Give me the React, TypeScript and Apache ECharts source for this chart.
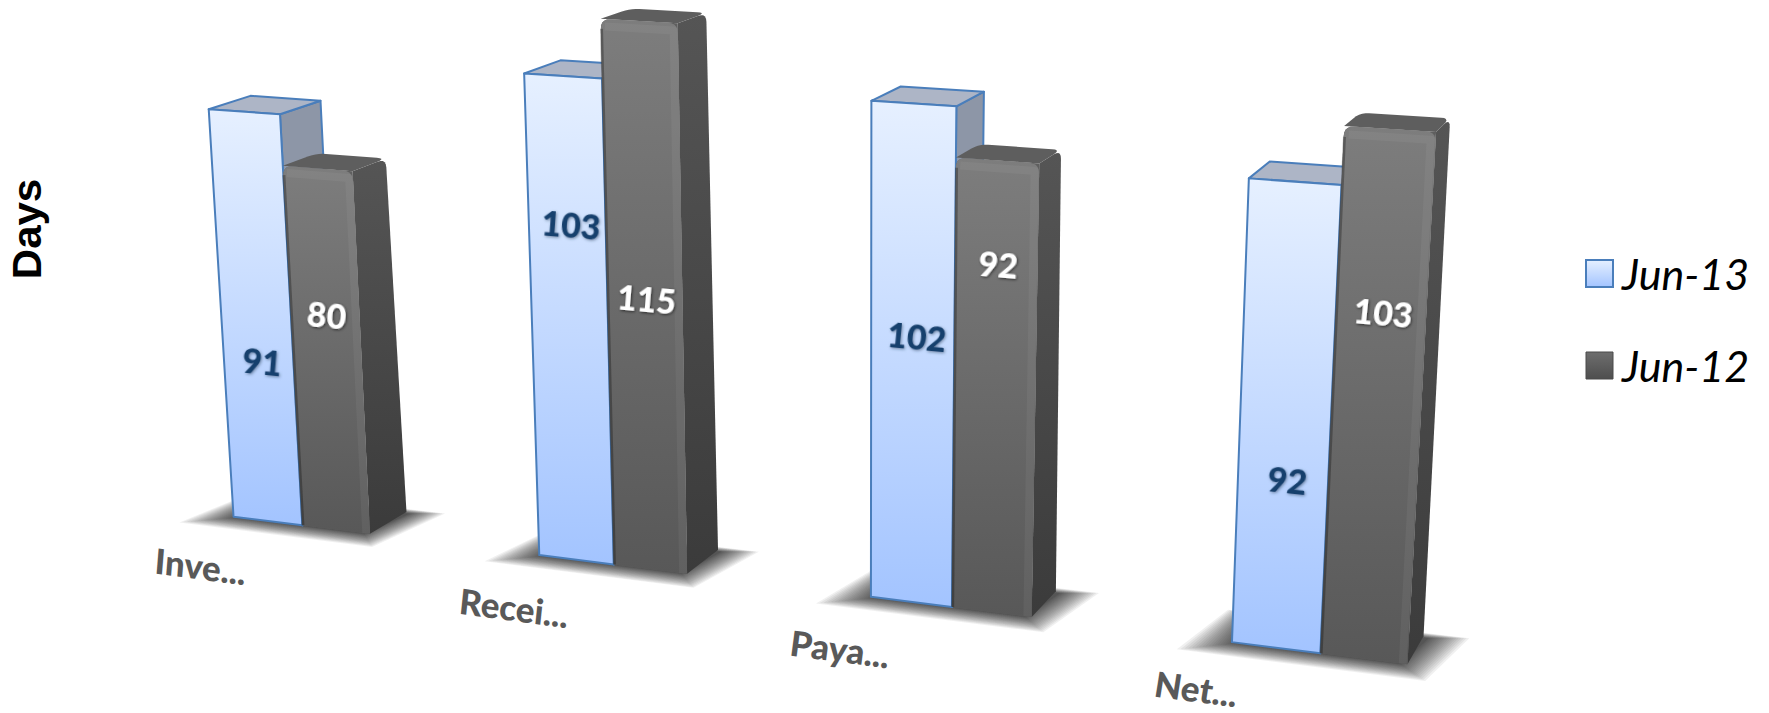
import React, { useEffect, useRef } from "react";
import * as echarts from "echarts";

const categories = ["Inve...", "Recei...", "Paya...", "Net..."];
const jun13 = [91, 103, 102, 92];
const jun12 = [80, 115, 92, 103];
const jun13LabelLift = [0.4, 0.703, 0.545, 0.373];
const jun12LabelLift = [0.606, 0.508, 0.778, 0.667];
const categoryLabelShift = [-0.125, -0.085, -0.09, -0.09];
const categoryLabelDrop = [12.5, 12.5, 12, 10.5];

const WIDTH = 1769;
const HEIGHT = 713;
const K = WIDTH / 1568;
const LABEL_FONT = "Lato, 'Open Sans', sans-serif";

// Perspective camera: U runs along the categories, H up the value axis, D into the floor.
const project = (U: number, H: number, D: number): number[] => {
  const w = 1 - 0.0391 * U - 0.000418 * H + 0.024 * D;
  const x = (207 + 252.3 * U - 0.3191 * H + 44 * D) / w;
  const y = (458 + 14.8 * U - 4.01 * H - 10.3 * D) / w;
  return [x * K, y * K];
};

// Rounds the listed corners of a polygon by sampling a quadratic curve around each.
const roundCorners = (pts: number[][], r: number, which: boolean[]) => {
  const out: number[][] = [];
  pts.forEach((p, i) => {
    if (!which[i]) {
      out.push(p);
      return;
    }
    const a = pts[(i + pts.length - 1) % pts.length];
    const b = pts[(i + 1) % pts.length];
    const toward = (q: number[]) => {
      const d = Math.hypot(q[0] - p[0], q[1] - p[1]) || 1;
      return [p[0] + ((q[0] - p[0]) / d) * r, p[1] + ((q[1] - p[1]) / d) * r];
    };
    const s = toward(a);
    const e = toward(b);
    for (let t = 0; t <= 1.001; t += 0.2) {
      const m = 1 - t;
      out.push([
        m * m * s[0] + 2 * m * t * p[0] + t * t * e[0],
        m * m * s[1] + 2 * m * t * p[1] + t * t * e[1],
      ]);
    }
  });
  return out;
};

const vertical = (top: string, bottom: string) =>
  new echarts.graphic.LinearGradient(0, 0, 0, 1, [
    { offset: 0, color: top },
    { offset: 1, color: bottom },
  ]);

// Recovers the model position of a datum from the cartesian axes of the flat grid.
const locate = (api: any) => {
  const cat = api.value(0);
  const val = api.value(1);
  const [px, py] = api.coord([cat, val]);
  const [, py0] = api.coord([cat, 0]);
  const band = api.size([1, 0])[0];
  const unit = api.size([0, 1])[1];
  return { cat, val, U: px / band - 0.5, H: (py0 - py) / unit };
};

// Orientation of a text laid on the front plane at a given spot.
const planeText = (U: number, H: number, lean: number) => {
  const p = project(U, H, 0);
  const q = project(U + 0.1, H, 0);
  const up = project(U, H + 10, 0);
  return {
    x: p[0],
    y: p[1],
    rotation: -Math.atan2(q[1] - p[1], q[0] - p[0]),
    skewX: -lean * Math.atan2(up[0] - p[0], p[1] - up[1]),
  };
};

// Floor shadow: stacked translucent quads widening outwards give a soft falloff.
const renderFloor = (_: any, api: any) => {
  const { cat, U } = locate(api);
  const layers: any[] = [];
  const steps = 22;
  for (let k = 0; k < steps; k++) {
    const e = Math.pow(1 - k / (steps - 1), 1.4);
    const points = [
      project(U + 0.01 - 0.13 * e, 0, -0.02 - 0.4 * e),
      project(U + 0.0 - 0.07 * e, 0, 0.82 + 0.16 * e),
      project(U + 0.47 + 0.1 * e, 0, 0.85 + 0.16 * e),
      project(U + 0.44 + 0.08 * e, 0, -0.02 - 0.4 * e),
    ];
    layers.push({
      type: "polygon",
      shape: { points },
      style: { fill: "rgba(50,50,50,0.075)" },
    });
  }
  layers.push({
    type: "text",
    ...planeText(U + categoryLabelShift[cat], -categoryLabelDrop[cat], 0.8),
    style: {
      text: categories[cat],
      fontFamily: LABEL_FONT,
      fontWeight: 900,
      fontSize: 35,
      fill: "#595959",
      align: "center",
      verticalAlign: "middle",
    },
  });
  return { type: "group", children: layers };
};

const valueText = (U: number, H: number, value: number, fill: string, shadow: string) => ({
  type: "text",
  ...planeText(U, H, 0.4),
  style: {
    text: String(value),
    fontFamily: LABEL_FONT,
    fontWeight: 900,
    fontSize: 34,
    fill,
    align: "center",
    verticalAlign: "middle",
    textShadowColor: shadow,
    textShadowBlur: 3,
    textShadowOffsetX: 1,
    textShadowOffsetY: 1,
  },
});

const renderJun13 = (_: any, api: any) => {
  const { cat, val, U, H } = locate(api);
  const u0 = U;
  const u1 = U + 0.232;
  const d = 0.92;
  const edge = { stroke: "#4a7ebb", lineWidth: 2, lineJoin: "round" };
  return {
    type: "group",
    children: [
      {
        type: "polygon",
        shape: {
          points: [project(u1, H, 0), project(u1, H, d), project(u1, 0, d), project(u1, 0, 0)],
        },
        style: { fill: "#8d96a7", ...edge },
      },
      {
        type: "polygon",
        shape: {
          points: [project(u0, H, 0), project(u0, H, d), project(u1, H, d), project(u1, H, 0)],
        },
        style: { fill: "#adb5c6", ...edge },
      },
      {
        type: "polygon",
        shape: {
          points: [project(u0, H, 0), project(u1, H, 0), project(u1, 0, 0), project(u0, 0, 0)],
        },
        style: { fill: vertical("#e6f0ff", "#a3c4ff"), ...edge },
      },
      valueText(U + 0.128, val * jun13LabelLift[cat], val, "#17406d", "rgba(40,60,90,0.55)"),
    ],
  };
};

const renderJun12 = (_: any, api: any) => {
  const { cat, val, U, H } = locate(api);
  const u0 = U + 0.232;
  const u1 = U + 0.456;
  const topDepth = 0.78;
  const footDepth = 0.9;
  const ft0 = project(u0, H, 0);
  const ft1 = project(u1, H, 0);
  const fb1 = project(u1, 0, 0);
  const fb0 = project(u0, 0, 0);
  const bt0 = project(u0, H, topDepth);
  const bt1 = project(u1, H, topDepth);
  const bb1 = project(u1, 0, footDepth);
  const inset = 0.012;
  return {
    type: "group",
    children: [
      {
        type: "polygon",
        shape: { points: roundCorners([ft1, bt1, bb1, fb1], 9, [false, true, false, false]) },
        style: { fill: vertical("#555555", "#3b3b3b") },
      },
      {
        type: "polygon",
        shape: { points: roundCorners([ft0, bt0, bt1, ft1], 9, [false, true, true, false]) },
        style: { fill: "#5e5e5e" },
      },
      // Backing so the rounded front corner never opens onto the page.
      {
        type: "polygon",
        shape: { points: roundCorners([ft0, ft1, fb1, fb0], 10, [true, false, false, false]) },
        style: { fill: "#5f5f5f" },
      },
      {
        type: "polygon",
        shape: {
          points: roundCorners([ft0, ft1, fb1, fb0], 10, [true, true, false, false]),
        },
        style: { fill: vertical("#7d7d7d", "#585858") },
      },
      // Soft bevel along the top and right edges of the front face.
      {
        type: "polyline",
        shape: {
          points: [
            project(u0 + inset, H - 1.5, 0),
            project(u1 - inset, H - 1.5, 0),
            project(u1 - inset, 0, 0),
          ],
        },
        style: { stroke: "rgba(255,255,255,0.05)", lineWidth: 8, fill: "none", lineJoin: "round" },
      },
      {
        type: "polyline",
        shape: { points: [project(u0 + 0.002, H - 2, 0), project(u0 + 0.002, 0, 0)] },
        style: { stroke: "rgba(0,0,0,0.28)", lineWidth: 3, fill: "none" },
      },
      valueText(U + 0.35, val * jun12LabelLift[cat], val, "#ffffff", "rgba(0,0,0,0.6)"),
    ],
  };
};

const toPairs = (values: number[]) => values.map((v, i) => [i, v]);

export default function App() {
  const ref = useRef<HTMLDivElement>(null);
  useEffect(() => {
    document.body.style.margin = "0";
    const chart = echarts.init(ref.current!, undefined, { renderer: "svg" });
    chart.setOption({
      animation: false,
      backgroundColor: "#ffffff",
      grid: { left: 0, top: 0, width: 1200, height: 600 },
      xAxis: { type: "category", data: categories, show: false },
      yAxis: { type: "value", min: 0, max: 120, interval: 20, show: false },
      legend: {
        left: 1585,
        top: 252,
        padding: 0,
        orient: "vertical",
        itemWidth: 27,
        itemHeight: 27,
        itemGap: 49,
        selectedMode: false,
        textStyle: {
          fontFamily: LABEL_FONT,
          fontStyle: "italic",
          fontSize: 43,
          color: "#000000",
          padding: [0, 0, 0, 4],
        },
        data: [
          {
            name: "Jun-13",
            icon: "rect",
            itemStyle: { color: vertical("#e6f0ff", "#a3c4ff"), borderColor: "#4a7ebb", borderWidth: 2 },
          },
          {
            name: "Jun-12",
            icon: "rect",
            itemStyle: { color: vertical("#6e6e6e", "#4e4e4e"), borderColor: "#4a4a4a", borderWidth: 1 },
          },
        ],
      },
      graphic: [
        {
          type: "text",
          x: 27,
          y: 229,
          rotation: Math.PI / 2,
          scaleX: 1.05,
          style: {
            text: "Days",
            fontFamily: "'Liberation Sans', Arial, sans-serif",
            fontWeight: "bold",
            fontSize: 40,
            fill: "#000000",
            align: "center",
            verticalAlign: "middle",
          },
        },
      ],
      series: [
        { type: "custom", name: "Floor", renderItem: renderFloor, data: toPairs(jun13), silent: true },
        { type: "custom", name: "Jun-13", renderItem: renderJun13, data: toPairs(jun13), itemStyle: { color: "#a3c4ff" } },
        { type: "custom", name: "Jun-12", renderItem: renderJun12, data: toPairs(jun12), itemStyle: { color: "#5e5e5e" } },
      ],
    });
    return () => chart.dispose();
  }, []);
  return (
    <div
      ref={ref}
      style={{ position: "absolute", left: 0, top: 0, width: WIDTH, height: HEIGHT }}
    />
  );
}
